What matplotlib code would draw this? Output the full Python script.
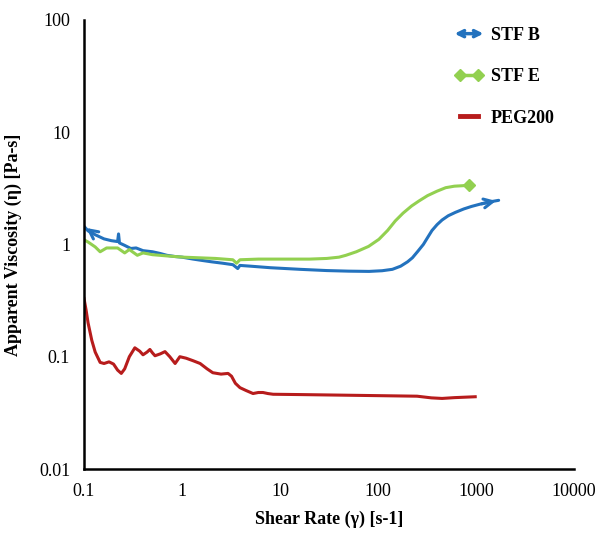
import matplotlib.pyplot as plt
from matplotlib.lines import Line2D
from matplotlib.patches import FancyArrowPatch
from matplotlib.legend_handler import HandlerPatch

plt.rcParams['font.family'] = ['Liberation Serif', 'DejaVu Serif']

# STF B (blue)
rate_b = [0.1, 0.11, 0.13, 0.16, 0.19, 0.22, 0.225, 0.23, 0.26, 0.3, 0.34, 0.4,
          0.5, 0.6, 0.7, 0.85, 1.0, 1.3, 1.6, 2.0, 2.6, 3.3, 3.7, 3.9, 5.0,
          8.0, 16, 30, 50, 81, 110, 140, 170, 200, 224, 255, 290, 320, 355, 400,
          450, 520, 616, 750, 900, 1070, 1300, 1700]
visc_b = [1.45, 1.32, 1.22, 1.12, 1.08, 1.06, 1.24, 1.03, 0.98, 0.92, 0.93, 0.88,
          0.86, 0.83, 0.80, 0.78, 0.77, 0.74, 0.72, 0.70, 0.68, 0.66, 0.61, 0.65, 0.64,
          0.62, 0.60, 0.585, 0.578, 0.575, 0.583, 0.60, 0.64, 0.70, 0.76, 0.87, 1.0, 1.15, 1.33, 1.5,
          1.65, 1.8, 1.93, 2.07, 2.18, 2.27, 2.37, 2.47]

# STF E (green)
rate_e = [0.1, 0.11, 0.13, 0.146, 0.17, 0.22, 0.26, 0.29, 0.35, 0.4, 0.5, 0.7,
          1.03, 1.5, 2.2, 3.3, 3.6, 3.9, 6, 10, 20, 30, 40, 47, 60, 80, 102, 125,
          150, 180, 220, 262, 320, 400, 490, 600, 855]
visc_e = [1.1, 1.05, 0.95, 0.86, 0.93, 0.93, 0.84, 0.9, 0.8, 0.84, 0.81, 0.79,
          0.77, 0.76, 0.75, 0.73, 0.68, 0.73, 0.74, 0.74, 0.74, 0.75, 0.77, 0.8, 0.86, 0.96, 1.11, 1.33,
          1.62, 1.9, 2.2, 2.44, 2.72, 2.98, 3.2, 3.3, 3.36]

# PEG200 (red)
rate_p = [0.1, 0.105, 0.11, 0.12, 0.13, 0.146, 0.16, 0.18, 0.2, 0.22, 0.24, 0.26,
          0.29, 0.33, 0.37, 0.4, 0.44, 0.47, 0.5, 0.53, 0.6, 0.67, 0.75, 0.85, 0.95,
          1.1, 1.3, 1.53, 1.8, 2.06, 2.5, 2.95, 3.2, 3.5, 3.9, 4.5, 5.3, 6.0, 6.7,
          7.5, 8.5, 16, 40, 100, 250, 350, 450, 600, 980]
visc_p = [0.33, 0.26, 0.2, 0.14, 0.11, 0.089, 0.087, 0.09, 0.086, 0.076, 0.071, 0.078,
          0.1, 0.12, 0.112, 0.104, 0.11, 0.116, 0.108, 0.102, 0.106, 0.111, 0.1, 0.087, 0.1,
          0.097, 0.092, 0.087, 0.078, 0.072, 0.07, 0.071, 0.067, 0.058, 0.053, 0.05, 0.047, 0.048, 0.048,
          0.047, 0.0463, 0.046, 0.0455, 0.045, 0.0445, 0.043, 0.0425, 0.0432, 0.044]

blue = '#2372BE'
green = '#92D050'
red = '#B71C1C'

fig = plt.figure(figsize=(5.98, 5.36), dpi=100)
ax = fig.add_axes([0.1405, 0.125, 0.8195, 0.838])

ax.plot(rate_b, visc_b, color=blue, lw=2.2, solid_capstyle='round', solid_joinstyle='round')
ax.annotate('', xy=(rate_b[-1], visc_b[-1]), xytext=(rate_b[-3], visc_b[-3]),
            arrowprops=dict(arrowstyle='->', color=blue, lw=2.2, mutation_scale=16))
ax.annotate('', xy=(rate_b[0], visc_b[0]), xytext=(rate_b[2], visc_b[2]),
            arrowprops=dict(arrowstyle='->', color=blue, lw=2.2, mutation_scale=16))
ax.plot(rate_e, visc_e, color=green, lw=2.2, marker='D', markersize=6,
        markevery=[len(rate_e) - 1], solid_joinstyle='round')
ax.plot(rate_p, visc_p, color=red, lw=2.2, solid_joinstyle='round')

ax.set_xscale('log')
ax.set_yscale('log')
ax.set_xlim(0.1, 10000)
ax.set_ylim(0.01, 100)
ax.set_xticks([0.1, 1, 10, 100, 1000, 10000])
ax.set_xticklabels(['0.1', '1', '10', '100', '1000', '10000'])
ax.set_yticks([0.01, 0.1, 1, 10, 100])
ax.set_yticklabels(['0.01', '0.1', '1', '10', '100'])
ax.minorticks_off()
ax.tick_params(length=0, labelsize=13, pad=10)
ax.spines['top'].set_visible(False)
ax.spines['right'].set_visible(False)
ax.spines['left'].set_linewidth(1.8)
ax.spines['bottom'].set_linewidth(1.8)
ax.set_xlabel('Shear Rate (\u03b3) [s-1]', fontsize=13, fontweight='bold', labelpad=8)
ax.set_ylabel('Apparent Viscosity (\u03b7) [Pa-s]', fontsize=13, fontweight='bold', labelpad=12)


def arrow_handle(legend, orig_handle, xdescent, ydescent, width, height, fontsize):
    return FancyArrowPatch((0, height / 2), (width, height / 2), arrowstyle='<->',
                           mutation_scale=11, shrinkA=0, shrinkB=0)


handles = [FancyArrowPatch((0, 0), (1, 0), color=blue, lw=2.5),
           Line2D([], [], color=green, lw=2.5, marker='D', markersize=6),
           Line2D([], [], color=red, lw=3.5)]
labels = ['STF B', 'STF E', 'PEG200']
fig.legend(handles, labels, loc='upper left', bbox_to_anchor=(0.733, 0.98),
           frameon=False, numpoints=2, handlelength=1.6, handletextpad=0.4,
           labelspacing=1.35, prop={'weight': 'bold', 'size': 13},
           handler_map={FancyArrowPatch: HandlerPatch(patch_func=arrow_handle)})

fig.savefig('out.png', dpi=100)
